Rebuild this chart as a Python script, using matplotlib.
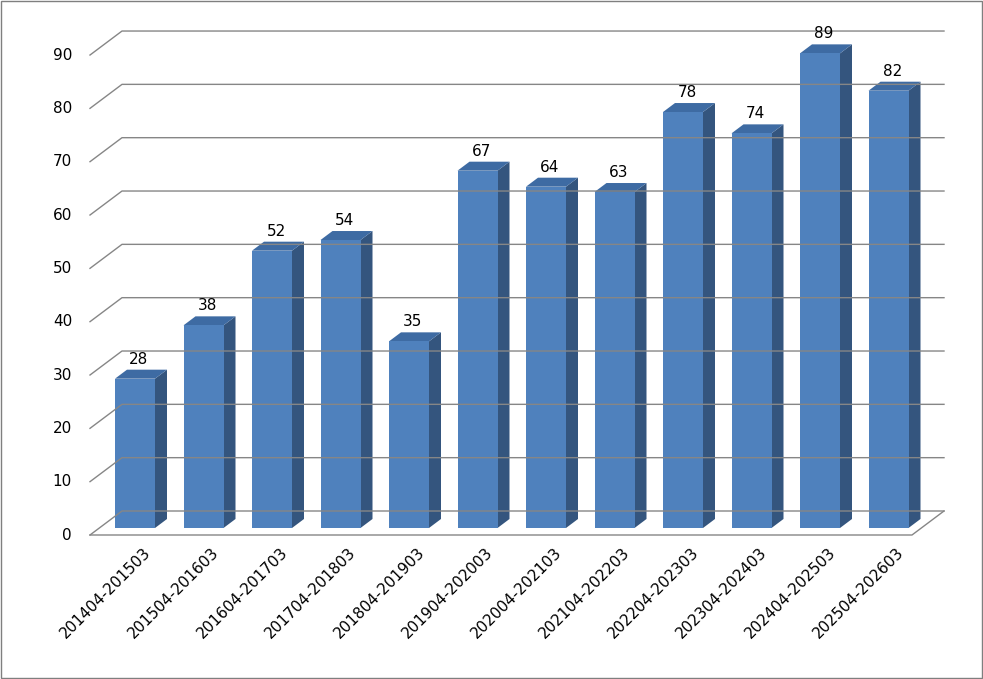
import matplotlib.pyplot as plt
from matplotlib.patches import Polygon, Rectangle

periods = ["201404-201503", "201504-201603", "201604-201703", "201704-201803",
           "201804-201903", "201904-202003", "202004-202103", "202104-202203",
           "202204-202303", "202304-202403", "202404-202503", "202504-202603"]
values = [28, 38, 52, 54, 35, 67, 64, 63, 78, 74, 89, 82]
y_ticks = list(range(0, 100, 10))

# pseudo-3D geometry in pixel space
PX_PER_UNIT = 5.333
FRONT_Y0 = 535      # floor front edge
WALL_DX, WALL_DY = 32, -24
BAR_Y0 = 528
BAR_X0, BAR_STEP, BAR_W = 115, 68.5, 40
DEPTH_DX, DEPTH_DY = 12, -9

FRONT_C = "#4F81BD"
SIDE_C = "#34557E"
TOP_C = "#3E6BA3"
GRID_C = "#868686"


def yf(v):
    return FRONT_Y0 - v * PX_PER_UNIT


fig = plt.figure(figsize=(9.83, 6.79), dpi=100)
ax = fig.add_axes([0, 0, 1, 1])
ax.set_xlim(0, 983)
ax.set_ylim(679, 0)
ax.axis("off")
ax.add_patch(Rectangle((1, 1), 981, 677, fill=False, ec="#7f7f7f", lw=1))

x_left, x_right = 90, 912
for v in y_ticks:
    y = yf(v)
    ax.plot([x_left, x_left + WALL_DX, x_right + WALL_DX],
            [y, y + WALL_DY, y + WALL_DY], color=GRID_C, lw=1)
    ax.text(72, y, str(v), ha="right", va="center", fontsize=11)
# floor front and right edges
ax.plot([x_left, x_right, x_right + WALL_DX],
        [FRONT_Y0, FRONT_Y0, FRONT_Y0 + WALL_DY], color=GRID_C, lw=1)

for i, (lab, v) in enumerate(zip(periods, values)):
    x0 = BAR_X0 + i * BAR_STEP
    x1 = x0 + BAR_W
    ytop = BAR_Y0 - v * PX_PER_UNIT
    ax.add_patch(Polygon([(x1, BAR_Y0), (x1 + DEPTH_DX, BAR_Y0 + DEPTH_DY),
                          (x1 + DEPTH_DX, ytop + DEPTH_DY), (x1, ytop)],
                         closed=True, fc=SIDE_C, ec="none"))
    ax.add_patch(Polygon([(x0, ytop), (x0 + DEPTH_DX, ytop + DEPTH_DY),
                          (x1 + DEPTH_DX, ytop + DEPTH_DY), (x1, ytop)],
                         closed=True, fc=TOP_C, ec="none"))
    ax.add_patch(Rectangle((x0, ytop), BAR_W, BAR_Y0 - ytop, fc=FRONT_C, ec="none"))
    ax.text(x0 + BAR_W / 2 + 4, ytop + DEPTH_DY - 3, str(v),
            ha="center", va="bottom", fontsize=11)
    ax.text(x0 + BAR_W / 2 + 8, 545, lab, rotation=45, ha="right", va="top",
            rotation_mode="anchor", fontsize=11)

fig.savefig("out.png", dpi=100)
